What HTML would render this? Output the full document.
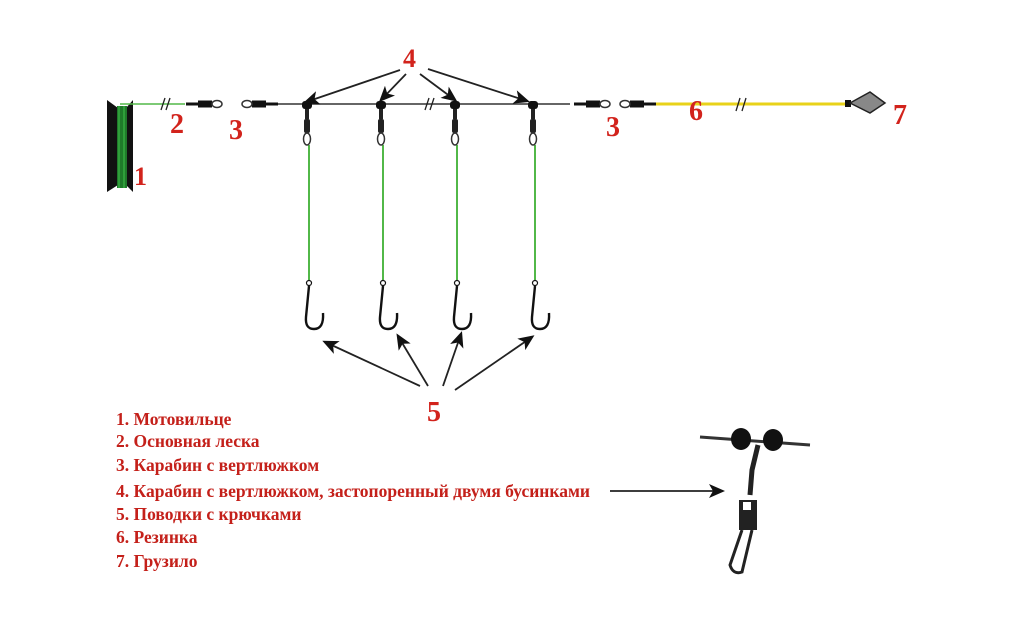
<!DOCTYPE html>
<html><head><meta charset="utf-8"><style>
html,body{margin:0;padding:0;background:#fff;width:1024px;height:631px;overflow:hidden}
.n{font-family:"Liberation Serif",serif;font-weight:bold;fill:#d2231c}
.l{font-family:"Liberation Serif",serif;font-weight:bold;fill:#c4201a;font-size:17.5px}
</style></head><body>
<svg width="1024" height="631" viewBox="0 0 1024 631" xmlns="http://www.w3.org/2000/svg">
<defs>
<marker id="a" markerWidth="16" markerHeight="14" refX="13" refY="7" orient="auto" markerUnits="userSpaceOnUse" viewBox="0 0 16 14">
<path d="M0,0 L16,7 L0,14 L4,7 z" fill="#111"/></marker>
<g id="snap">
<rect x="-5" y="-5" width="10" height="8" rx="3" fill="#111"/>
<rect x="-2" y="3" width="4" height="10" fill="#222"/>
<rect x="-3" y="13" width="6" height="14" rx="2" fill="#222"/>
<ellipse cx="0" cy="33" rx="3.5" ry="6" fill="none" stroke="#333" stroke-width="1.5"/>
</g>
<g id="hook">
<circle cx="0" cy="0" r="2.5" fill="#fff" stroke="#111" stroke-width="1.2"/>
<path d="M0,3 L-3,34 Q-4,46 5,46 Q15,46 14,30" fill="none" stroke="#111" stroke-width="2.4"/>
</g>
<g id="sw">
<path d="M-28,0 L-6,0" stroke="#111" stroke-width="3"/>
<rect x="-16" y="-3.5" width="14" height="7" fill="#111"/>
<ellipse cx="3" cy="0" rx="5" ry="3.5" fill="none" stroke="#333" stroke-width="1.5"/>
</g>
</defs>
<!-- reel -->
<polygon points="107,100 118,108 118,185 107,192" fill="#111"/>
<polygon points="133,100 126,108 126,185 133,192" fill="#111"/>
<rect x="117" y="106" width="10" height="82" fill="#1f7a2a"/>
<line x1="119" y1="106" x2="119" y2="188" stroke="#3fc34a" stroke-width="1"/>
<line x1="124" y1="106" x2="124" y2="188" stroke="#3fc34a" stroke-width="1"/>
<!-- main line -->
<line x1="120" y1="104" x2="185" y2="104" stroke="#52b848" stroke-width="1.5"/>
<line x1="270" y1="104" x2="570" y2="104" stroke="#333" stroke-width="1.5"/>
<line x1="640" y1="104" x2="845" y2="104" stroke="#e8d21a" stroke-width="3"/>
<path d="M161,110 L165,98 M166,110 L170,98" stroke="#222" stroke-width="1.3"/>
<path d="M425,110 L429,98 M430,110 L434,98" stroke="#222" stroke-width="1.3"/>
<path d="M736,111 L740,98 M742,111 L746,98" stroke="#222" stroke-width="1.3"/>
<use href="#sw" x="214" y="104"/>
<g transform="translate(250,104) scale(-1,1)"><use href="#sw"/></g>
<use href="#sw" x="602" y="104"/>
<g transform="translate(628,104) scale(-1,1)"><use href="#sw"/></g>
<!-- sinker -->
<rect x="845" y="100" width="6" height="7" fill="#111"/>
<polygon points="850,103 870,92 885,103 870,113" fill="#888" stroke="#222" stroke-width="1.5"/>
<!-- snaps & leaders -->
<g stroke="#52b848" stroke-width="2">
<line x1="309" y1="145" x2="309" y2="280"/><line x1="383" y1="145" x2="383" y2="280"/>
<line x1="457" y1="145" x2="457" y2="280"/><line x1="535" y1="145" x2="535" y2="280"/>
</g>
<use href="#snap" x="307" y="106"/><use href="#snap" x="381" y="106"/>
<use href="#snap" x="455" y="106"/><use href="#snap" x="533" y="106"/>
<use href="#hook" x="309" y="283"/><use href="#hook" x="383" y="283"/>
<use href="#hook" x="457" y="283"/><use href="#hook" x="535" y="283"/>
<!-- arrows -->
<g stroke="#222" stroke-width="1.8" marker-end="url(#a)">
<line x1="400" y1="70" x2="306" y2="102"/><line x1="406" y1="74" x2="381" y2="100"/>
<line x1="420" y1="74" x2="455" y2="100"/><line x1="428" y1="69" x2="527" y2="101"/>
<line x1="420" y1="386" x2="325" y2="342"/><line x1="428" y1="386" x2="398" y2="336"/>
<line x1="443" y1="386" x2="461" y2="334"/><line x1="455" y1="390" x2="532" y2="337"/>
<line x1="610" y1="491" x2="722" y2="491"/>
</g>
<!-- labels -->
<text class="n" x="403" y="67" font-size="26">4</text>
<text class="n" x="134" y="185" font-size="26">1</text>
<text class="n" x="170" y="133" font-size="28">2</text>
<text class="n" x="229" y="139" font-size="28">3</text>
<text class="n" x="606" y="136" font-size="28">3</text>
<text class="n" x="689" y="120" font-size="28">6</text>
<text class="n" x="893" y="124" font-size="28">7</text>
<text class="n" x="427" y="421" font-size="28">5</text>
<text class="l" x="116" y="425">1. Мотовильце</text>
<text class="l" x="116" y="447">2. Основная леска</text>
<text class="l" x="116" y="471">3. Карабин с вертлюжком</text>
<text class="l" x="116" y="497">4. Карабин с вертлюжком, застопоренный двумя бусинками</text>
<text class="l" x="116" y="520">5. Поводки с крючками</text>
<text class="l" x="116" y="543">6. Резинка</text>
<text class="l" x="116" y="567">7. Грузило</text>
<!-- detail snap -->
<line x1="700" y1="437" x2="810" y2="445" stroke="#333" stroke-width="3"/>
<ellipse cx="741" cy="439" rx="10" ry="11" fill="#111"/>
<ellipse cx="773" cy="440" rx="10" ry="11" fill="#111"/>
<path d="M758,445 L752,470 L750,495" stroke="#222" stroke-width="5" fill="none"/>
<rect x="739" y="500" width="18" height="30" fill="#222"/>
<rect x="743" y="502" width="8" height="8" fill="#fff"/>
<path d="M742,530 L730,565 Q733,575 742,572 L752,530" fill="none" stroke="#222" stroke-width="3"/>
</svg>
</body></html>
